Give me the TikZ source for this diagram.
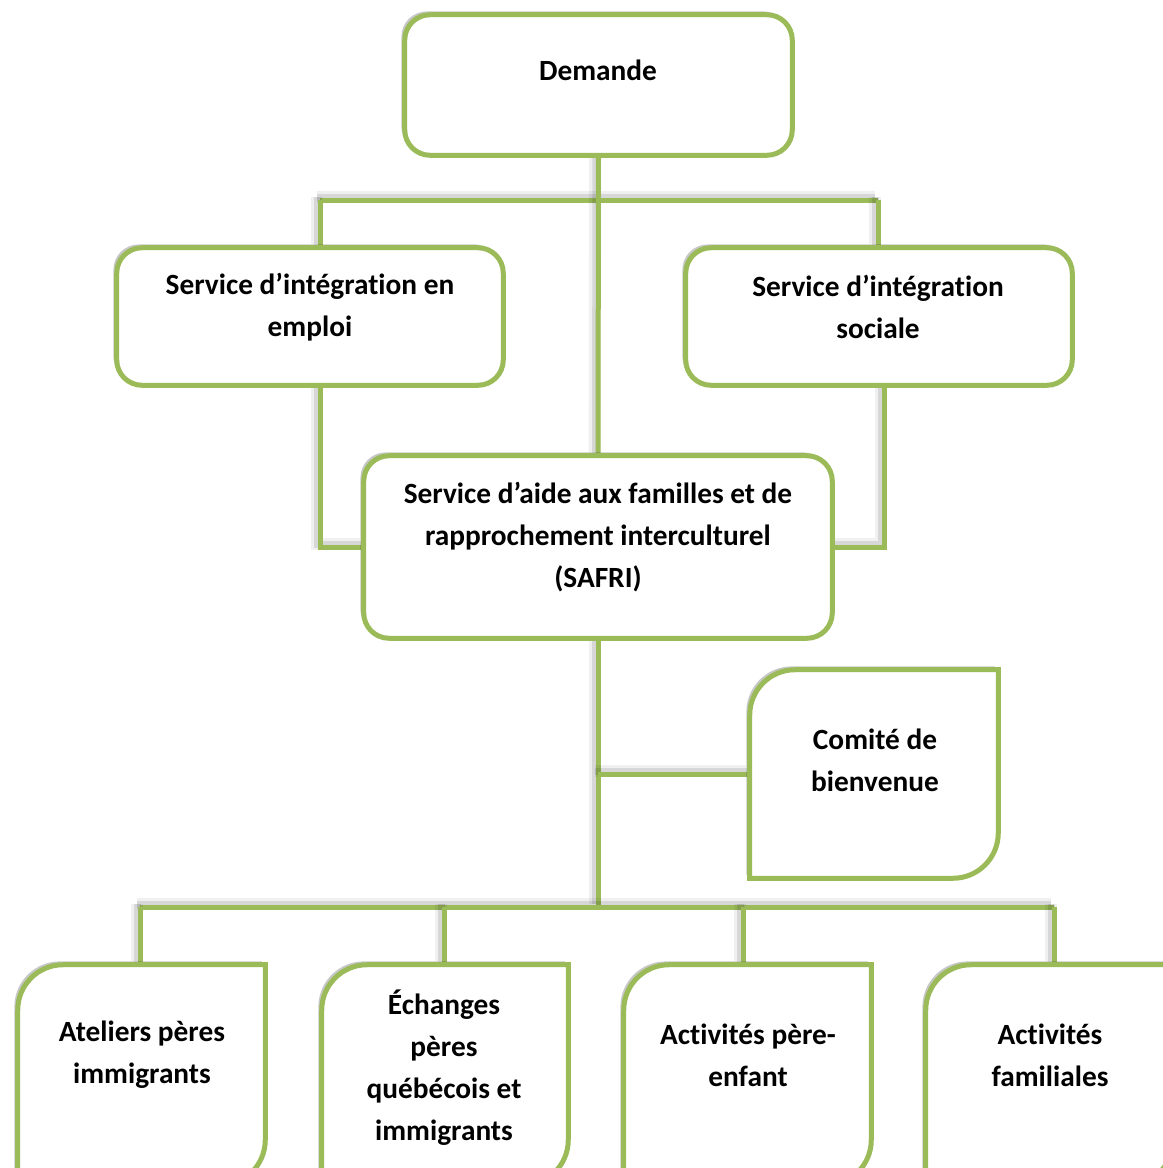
\documentclass[tikz,border=0pt]{standalone}
\usepackage{fontspec}
\setmainfont{Carlito}[Ligatures=NoCommon,RawFeature={-liga;-clig;-calt}]
\usetikzlibrary{shadows}
\definecolor{ogreen}{HTML}{9BBB59}
\begin{document}
\begin{tikzpicture}[x=0.75pt,y=-0.75pt,
  shd/.style={drop shadow={shadow xshift=-2.5pt,shadow yshift=2.5pt,opacity=.22,fill=black}},
  conn/.style={draw=ogreen,line width=3.75pt,
    preaction={draw=black,draw opacity=.06,line width=9pt,transform canvas={xshift=-2.5pt,yshift=2.5pt}},
    preaction={draw=black,draw opacity=.10,line width=5pt,transform canvas={xshift=-2pt,yshift=2pt}}},
  rbox/.style={shape=rectangle,draw=ogreen,fill=white,line width=3.75pt,rounded corners=19pt,shd,inner sep=0pt},
  pbox/.style={shape=rectangle,inner sep=0pt},
  pline/.style={draw=ogreen,fill=white,line width=3.75pt,shd},
  txt/.style={inner sep=0pt,align=center,font=\bfseries\fontsize{22}{31.5}\selectfont}]
\useasboundingbox[fill=white] (0,0) rectangle (1163,1168);

% box placeholders (positions)
\path (598.5,85) node[pbox,minimum width=290.25pt,minimum height=105pt] (demande) {};
\path (310,316.5) node[pbox,minimum width=289.5pt,minimum height=102.75pt] (sie) {};
\path (879,316.5) node[pbox,minimum width=289.5pt,minimum height=102.75pt] (sis) {};
\path (598,547) node[pbox,minimum width=351pt,minimum height=136.5pt] (safri) {};
\path (874,774) node[pbox,minimum width=186pt,minimum height=156pt] (comite) {};
\path (141.5,1075) node[pbox,minimum width=185.25pt,minimum height=165pt] (ateliers) {};
\path (445,1075) node[pbox,minimum width=184.5pt,minimum height=165pt] (echanges) {};
\path (747.5,1075) node[pbox,minimum width=185.25pt,minimum height=165pt] (pereenfant) {};
\path (1049.5,1075) node[pbox,minimum width=185.25pt,minimum height=165pt] (familiales) {};

% bus coordinates
\coordinate (tl) at (320,200);
\coordinate (tr) at (878,200);
\coordinate (sl) at (320,385);
\coordinate (sr) at (884,385);
\coordinate (mb) at (598,907);
\coordinate (b1) at (140,907);
\coordinate (b2) at (444,907);
\coordinate (b3) at (743,907);
\coordinate (b4) at (1054,907);

% connectors
\draw[conn] (tl) -- (tr);
\draw[conn] (demande.south) -- (safri.north);
\draw[conn] (tl) -- (tl |- sie.north);
\draw[conn] (tr) -- (tr |- sis.north);
\draw[conn] (sl) |- (safri.west);
\draw[conn] (sr) |- (safri.east);
\draw[conn] (safri.south) -- (mb);
\draw[conn] (safri.south |- comite.west) -- (comite.west);
\draw[conn] (b1) -- (b4);
\draw[conn] (b1) -- (b1 |- ateliers.north);
\draw[conn] (b2) -- (b2 |- echanges.north);
\draw[conn] (b3) -- (b3 |- pereenfant.north);
\draw[conn] (b4) -- (b4 |- familiales.north);

% rounded boxes
\path[rbox] (demande.north west) rectangle (demande.south east);
\path[rbox] (sie.north west) rectangle (sie.south east);
\path[rbox] (sis.north west) rectangle (sis.south east);
\path[rbox] (safri.north west) rectangle (safri.south east);

% leaf-shaped boxes
\foreach \b in {comite,ateliers,echanges,pereenfant,familiales}{
  \path[pline] (\b.west) [rounded corners=34pt] -- (\b.north west) -- (\b.north)
     [sharp corners] -- (\b.north east) -- (\b.east)
     [rounded corners=34pt] -- (\b.south east) -- (\b.south)
     [sharp corners] -- (\b.south west) -- cycle;
}

% texts
\node[txt] (demande-t) at (598,70) {Demande};
\node[txt] (sie-t) at (310,307) {Service d’intégration en\\emploi};
\node[txt] (sis-t) at (878,307) {Service d’intégration\\sociale};
\node[txt] (safri-t) at (598,537) {Service d’aide aux familles et de\\rapprochement interculturel\\(SAFRI)};
\node[txt] (comite-t) at (875,760) {Comité de\\bienvenue};
\node[txt] (ateliers-t) at (142,1055) {Ateliers pères\\immigrants};
\node[txt] (echanges-t) at (444,1068) {Échanges\\pères\\québécois et\\immigrants};
\node[txt] (pereenfant-t) at (748,1055) {Activités père-\\enfant};
\node[txt] (familiales-t) at (1050,1055) {Activités\\familiales};
\end{tikzpicture}
\end{document}
